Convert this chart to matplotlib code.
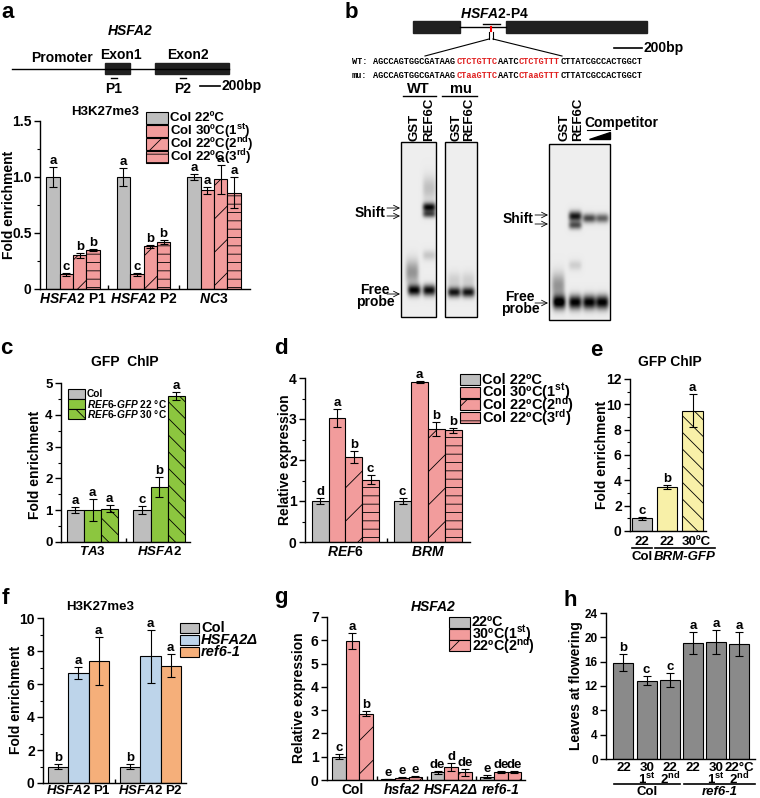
import numpy as np
import matplotlib
matplotlib.use('Agg')
import matplotlib.pyplot as plt
from matplotlib.patches import Rectangle, Polygon
from matplotlib.ticker import MultipleLocator

plt.rcParams['font.family'] = ['Liberation Sans', 'DejaVu Sans']
plt.rcParams['font.weight'] = 'bold'
plt.rcParams['axes.labelweight'] = 'bold'
plt.rcParams['mathtext.fontset'] = 'custom'
plt.rcParams['mathtext.rm'] = 'Liberation Sans:bold'
plt.rcParams['mathtext.it'] = 'Liberation Sans:bold:italic'
plt.rcParams['mathtext.bf'] = 'Liberation Sans:bold'
plt.rcParams['hatch.linewidth'] = 0.6
plt.rcParams['axes.linewidth'] = 1.0

W, H = 760, 798
GRAY = '#BEBEBE'
PINK = '#F29C9C'
GREEN = '#8CC63F'
YELLOW = '#F8F0A8'
BLUE = '#BDD4EA'
ORANGE = '#F5AF7A'
DARK = '#8A8A8A'

# ---- data ----
# a: H3K27me3 at HSFA2
a_labels = [r'$\it{HSFA2}$ P1', r'$\it{HSFA2}$ P2', r'$\it{NC3}$']
a_22 = [1.00, 1.00, 1.00]; a_22_err = [0.09, 0.08, 0.03]; a_22_sig = ['a', 'a', 'a']
a_30 = [0.13, 0.13, 0.88]; a_30_err = [0.01, 0.01, 0.03]; a_30_sig = ['c', 'c', 'a']
a_2nd = [0.30, 0.38, 0.98]; a_2nd_err = [0.02, 0.01, 0.13]; a_2nd_sig = ['b', 'b', 'a']
a_3rd = [0.35, 0.42, 0.86]; a_3rd_err = [0.01, 0.02, 0.14]; a_3rd_sig = ['b', 'b', 'a']

# c: GFP ChIP REF6-GFP
c_labels = [r'$\it{TA3}$', r'$\it{HSFA2}$']
c_col = [1.0, 1.0]; c_col_err = [0.10, 0.12]; c_col_sig = ['a', 'c']
c_22 = [1.0, 1.72]; c_22_err = [0.35, 0.32]; c_22_sig = ['a', 'b']
c_30 = [1.05, 4.60]; c_30_err = [0.10, 0.12]; c_30_sig = ['a', 'a']

# d: relative expression REF6 / BRM
d_labels = [r'$\it{REF6}$', r'$\it{BRM}$']
d_22 = [1.0, 1.0]; d_22_err = [0.08, 0.08]; d_22_sig = ['d', 'c']
d_30 = [3.03, 3.90]; d_30_err = [0.22, 0.02]; d_30_sig = ['a', 'a']
d_2nd = [2.07, 2.75]; d_2nd_err = [0.14, 0.17]; d_2nd_sig = ['b', 'b']
d_3rd = [1.52, 2.72]; d_3rd_err = [0.11, 0.05]; d_3rd_sig = ['c', 'b']

# e: GFP ChIP BRM-GFP
e_vals = [1.0, 3.5, 9.5]; e_err = [0.10, 0.15, 1.30]; e_sig = ['c', 'b', 'a']

# f: H3K27me3
f_labels = [r'$\it{HSFA2}$ P1', r'$\it{HSFA2}$ P2']
f_col = [1.0, 1.0]; f_col_err = [0.15, 0.15]; f_col_sig = ['b', 'b']
f_del = [6.68, 7.68]; f_del_err = [0.35, 1.62]; f_del_sig = ['a', 'a']
f_ref = [7.37, 7.10]; f_ref_err = [1.45, 0.70]; f_ref_sig = ['a', 'a']

# g: HSFA2 expression
g_labels = ['Col', 'hsfa2', 'HSFA2Δ', 'ref6-1']
g_22 = [1.0, 0.05, 0.33, 0.15]; g_22_err = [0.10, 0.01, 0.07, 0.05]; g_22_sig = ['c', 'e', 'de', 'e']
g_30 = [5.97, 0.10, 0.55, 0.35]; g_30_err = [0.33, 0.02, 0.18, 0.04]; g_30_sig = ['a', 'e', 'd', 'de']
g_2nd = [2.85, 0.15, 0.33, 0.35]; g_2nd_err = [0.12, 0.02, 0.15, 0.03]; g_2nd_sig = ['b', 'e', 'de', 'de']

# h: leaves at flowering
h_labels = ['22', '30\n1$^{\\rm st}$', '22\n2$^{\\rm nd}$', '22', '30\n1$^{\\rm st}$', '22°C\n2$^{\\rm nd}$']
h_vals = [15.8, 12.9, 13.0, 19.1, 19.2, 18.9]
h_err = [1.4, 0.8, 1.2, 1.8, 2.0, 1.9]
h_sig = ['b', 'c', 'c', 'a', 'a', 'a']

# gel bands: (lane x, y, strength, spread)
gel1_bands = [(414, 290, 0.90, 5.5), (412, 272, 0.35, 12), (429, 207, 0.90, 4.5), (429, 214, 0.60, 3.5),
              (429, 188, 0.18, 12), (429, 255, 0.15, 5), (429, 290, 0.90, 5.5)]
gel2_bands = [(454, 292, 0.85, 5), (468, 292, 0.85, 5), (454, 280, 0.12, 8), (468, 280, 0.12, 8)]
gel3_bands = [(559, 302, 1.0, 7), (558, 285, 0.35, 12), (575, 216, 0.85, 5), (575, 225, 0.60, 4),
              (575, 265, 0.12, 5), (575, 302, 0.95, 7), (589, 218, 0.65, 4.5), (589, 302, 0.95, 7),
              (602, 218, 0.55, 4.5), (602, 302, 0.95, 7)]

fig = plt.figure(figsize=(W / 100, H / 100), dpi=100)

# overlay in pixel coordinates for annotations, diagrams and gels
ov = fig.add_axes([0, 0, 1, 1])
ov.set_zorder(5)
ov.axis('off')


def px_axes(x0, y0, x1, y1):
    return fig.add_axes([x0 / W, 1 - y1 / H, (x1 - x0) / W, (y1 - y0) / H])


def style_axes(ax, ymax, step, minor, fs, xlim, seps=()):
    ax.set_ylim(0, ymax)
    ax.set_xlim(*xlim)
    ax.set_yticks(np.arange(0, ymax + 1e-9, step))
    if minor:
        ax.yaxis.set_minor_locator(MultipleLocator(minor))
    ax.set_xticks(list(seps), minor=True)
    ax.spines[['top', 'right']].set_visible(False)
    ax.tick_params(axis='y', which='major', direction='out', length=4, width=1, labelsize=fs, pad=2)
    ax.tick_params(axis='y', which='minor', direction='out', length=2.5, width=0.8)
    ax.tick_params(axis='x', which='major', length=0, labelsize=fs, pad=2)
    ax.tick_params(axis='x', which='minor', direction='in', length=3, width=1)
    for t in ax.get_yticklabels() + ax.get_xticklabels():
        t.set_fontweight('bold')


def grouped(ax, series, width, fs=9.5):
    n = len(series)
    x = np.arange(len(series[0][0]))
    for j, (vals, errs, sig, color, hatch) in enumerate(series):
        xs = x + (j - (n - 1) / 2) * width
        ax.bar(xs, vals, width, color=color, hatch=hatch, edgecolor='black', linewidth=0.8, zorder=2)
        ax.errorbar(xs, vals, yerr=errs, fmt='none', ecolor='black', elinewidth=0.8,
                    capsize=3.2, capthick=0.8, zorder=3)
        for xi, v, e, s in zip(xs, vals, errs, sig):
            ax.annotate(s, (xi, v + e), ha='center', va='bottom', fontsize=fs)
    return x


def legend_px(entries, x, y, w, h, dy, fs, italic=()):
    for i, (label, color, hatch) in enumerate(entries):
        yy = y + i * dy
        ov.add_patch(Rectangle((x, yy), w, h, facecolor=color, edgecolor='black', hatch=hatch, lw=0.8))
        ov.text(x + w + 2, yy + h / 2, label, fontsize=fs, ha='left', va='center',
                fontstyle='italic' if i in italic else 'normal')


def ylabel_px(text, x, y, fs=9.5):
    ov.text(x, y, text, fontsize=fs, rotation=90, ha='center', va='center')


leg_a = [('Col 22ºC', GRAY, None), ('Col 30ºC(1$^{\\rm st}$)', PINK, None),
         ('Col 22ºC(2$^{\\rm nd}$)', PINK, '/'), ('Col 22ºC(3$^{\\rm rd}$)', PINK, '--')]

# ---- panel a ----
ax = px_axes(40, 121, 250, 289)
grouped(ax, [(a_22, a_22_err, a_22_sig, GRAY, None), (a_30, a_30_err, a_30_sig, PINK, None),
             (a_2nd, a_2nd_err, a_2nd_sig, PINK, '/'), (a_3rd, a_3rd_err, a_3rd_sig, PINK, '--')], 0.19)
ax.set_xticks(range(3))
ax.set_xticklabels(a_labels)
style_axes(ax, 1.5, 0.5, 0.25, 10, (-0.468, 2.51), seps=(0.5, 1.5))
ax.set_yticklabels(['0', '0.5', '1.0', '1.5'])
ylabel_px('Fold enrichment', 9, 205, 10)
legend_px(leg_a, 146, 112, 22, 11.5, 13, 9.5)

# ---- panel c ----
ax = px_axes(61, 383, 190, 542)
grouped(ax, [(c_col, c_col_err, c_col_sig, GRAY, None), (c_22, c_22_err, c_22_sig, GREEN, None),
             (c_30, c_30_err, c_30_sig, GREEN, '\\\\')], 0.256)
ax.set_xticks(range(2))
ax.set_xticklabels(c_labels)
style_axes(ax, 5, 1, 0.5, 9.5, (-0.474, 1.466), seps=(0.5,))
ylabel_px('Fold enrichment', 35, 465, 10)
legend_px([('Col', GRAY, None), (r'$\it{REF6}$-$\it{GFP}$ 22 °C', GREEN, None),
           (r'$\it{REF6}$-$\it{GFP}$ 30 °C', GREEN, '\\\\')], 68, 389, 17, 9.5, 10, 7.3)

# ---- panel d ----
ax = px_axes(305, 378, 470, 542)
grouped(ax, [(d_22, d_22_err, d_22_sig, GRAY, None), (d_30, d_30_err, d_30_sig, PINK, None),
             (d_2nd, d_2nd_err, d_2nd_sig, PINK, '/'), (d_3rd, d_3rd_err, d_3rd_sig, PINK, '--')], 0.204)
ax.set_xticks(range(2))
ax.set_xticklabels(d_labels)
style_axes(ax, 4, 1, 0.5, 10, (-0.49, 1.51), seps=(0.5,))
ylabel_px('Relative expression', 285, 460, 10)
legend_px(leg_a, 460, 374, 20, 11, 12.7, 10.5)

# ---- panel e ----
ax = px_axes(630, 379, 706, 531)
ex = np.arange(3)
ax.bar(ex, e_vals, 0.8, color=[GRAY, YELLOW, YELLOW], hatch=[None, None, '\\\\'],
       edgecolor='black', linewidth=0.8, zorder=2)
ax.errorbar(ex, e_vals, yerr=e_err, fmt='none', ecolor='black', elinewidth=0.8, capsize=3, capthick=0.8, zorder=3)
for xi, v, e, s in zip(ex, e_vals, e_err, e_sig):
    ax.annotate(s, (xi, v + e), ha='center', va='bottom', fontsize=9.5)
ax.set_xticks([])
style_axes(ax, 12, 2, 1, 10, (-0.47, 2.53))
ylabel_px('Fold enrichment', 602, 455, 10)

# ---- panel f ----
ax = px_axes(43, 618, 186, 783)
grouped(ax, [(f_col, f_col_err, f_col_sig, GRAY, None), (f_del, f_del_err, f_del_sig, BLUE, None),
             (f_ref, f_ref_err, f_ref_sig, ORANGE, None)], 0.278)
ax.set_xticks(range(2))
ax.set_xticklabels(f_labels)
style_axes(ax, 10, 2, 1, 10, (-0.493, 1.493), seps=(0.5,))
ax.tick_params(axis='x', labelsize=9.5, pad=0.5)
ylabel_px('Fold enrichment', 16, 700, 10)
legend_px([('Col', GRAY, None), ('HSFA2Δ', BLUE, None), ('ref6-1', ORANGE, None)],
          180, 623, 19, 10, 12, 10.5, italic=(1, 2))

# ---- panel g ----
ax = px_axes(327, 617, 525, 780)
grouped(ax, [(g_22, g_22_err, g_22_sig, GRAY, None), (g_30, g_30_err, g_30_sig, PINK, None),
             (g_2nd, g_2nd_err, g_2nd_sig, PINK, '/')], 0.276)
ax.set_xticks(range(4))
ax.set_xticklabels(g_labels)
style_axes(ax, 7, 1, None, 10, (-0.513, 3.49), seps=(0.5, 1.5, 2.5))
for t in ax.get_xticklabels()[1:]:
    t.set_fontstyle('italic')
ylabel_px('Relative expression', 299, 698, 10)
legend_px([('22ºC', GRAY, None), ('30ºC(1$^{\\rm st}$)', PINK, None), ('22ºC(2$^{\\rm nd}$)', PINK, '/')],
          449, 617, 21, 11, 11.7, 10.3)

# ---- panel h ----
ax = px_axes(606, 613, 755, 759)
hx = np.arange(6)
ax.bar(hx, h_vals, 0.86, color=DARK, edgecolor='black', linewidth=0.8, zorder=2)
ax.errorbar(hx, h_vals, yerr=h_err, fmt='none', ecolor='black', elinewidth=0.8, capsize=3, capthick=0.8, zorder=3)
for xi, v, e, s in zip(hx, h_vals, h_err, h_sig):
    ax.annotate(s, (xi, v + e), ha='center', va='bottom', fontsize=9.5)
ax.set_xticks(hx)
ax.set_xticklabels(h_labels, linespacing=0.8)
style_axes(ax, 24, 4, None, 8.5, (-0.75, 5.67))
ax.tick_params(axis='x', labelsize=9.5)
ylabel_px('Leaves at flowering', 576, 686, 10)

# ---- overlay content ----
for lab, x, y in [('a', 8, 13), ('b', 351, 12), ('c', 6, 349), ('d', 281, 349), ('e', 596, 350),
                  ('f', 5, 598), ('g', 281, 598), ('h', 570, 601)]:
    ov.text(x, y, lab, fontsize=16, ha='center', va='center')

# titles
ov.text(105, 112, 'H3K27me3', fontsize=9.5, ha='center', va='center')
ov.text(125, 362, 'GFP  ChIP', fontsize=10, ha='center', va='center')
ov.text(670, 362, 'GFP ChIP', fontsize=10, ha='center', va='center')
ov.text(100, 607, 'H3K27me3', fontsize=9.5, ha='center', va='center')
ov.text(433, 607, 'HSFA2', fontsize=10, fontstyle='italic', ha='center', va='center')

# panel a gene diagram
ov.text(130, 31, 'HSFA2', fontsize=10, fontstyle='italic', ha='center', va='center')
ov.plot([12, 229], [69, 69], color='black', lw=1)
ov.add_patch(Rectangle((105, 63), 25, 11, color='#202020'))
ov.add_patch(Rectangle((155, 63), 74, 11, color='#202020'))
ov.text(62, 58, 'Promoter', fontsize=10, ha='center', va='center')
ov.text(121, 55, 'Exon1', fontsize=10, ha='center', va='center')
ov.text(188, 55, 'Exon2', fontsize=10, ha='center', va='center')
ov.plot([111, 117], [78, 78], color='black', lw=1)
ov.plot([180, 186], [78, 78], color='black', lw=1)
ov.text(114, 89, 'P1', fontsize=10, ha='center', va='center')
ov.text(183, 89, 'P2', fontsize=10, ha='center', va='center')
ov.plot([200, 220], [86, 86], color='black', lw=1.2)
ov.text(222, 86, '200bp', fontsize=10, ha='left', va='center')

# panel b gene diagram
ov.text(494, 14, r'$\it{HSFA2}$-P4', fontsize=10, ha='center', va='center')
ov.add_patch(Rectangle((413, 21), 47, 12, color='#202020'))
ov.add_patch(Rectangle((506, 21), 141, 12, color='#202020'))
ov.plot([460, 506], [27, 27], color='black', lw=1)
ov.plot([483, 500], [24, 24], color='black', lw=1)
ov.plot([491, 491], [27, 31], color='red', lw=1.5)
ov.plot([489, 489], [32, 39], color='black', lw=0.8)
ov.plot([493, 493], [32, 39], color='black', lw=0.8)
ov.plot([489, 425], [39, 56], color='black', lw=0.8)
ov.plot([493, 562], [39, 56], color='black', lw=0.8)
ov.plot([614, 642], [48, 48], color='black', lw=1.2)
ov.text(644, 48, '200bp', fontsize=10, ha='left', va='center')

seq_wt = ['AGCCAGTGGCGATAAG', 'CTCTGTTC', 'AATC', 'CTCTGTTT', 'CTTATCGCCACTGGCT']
seq_mu = ['AGCCAGTGGCGATAAG', 'CTaaGTTC', 'AATC', 'CTaaGTTT', 'CTTATCGCCACTGGCT']
cw = 0.6 * 6.25 * 100 / 72
for name, parts, y in [('WT:', seq_wt, 62), ('mu:', seq_mu, 76)]:
    ov.text(352, y, name, fontsize=6.25, family='Liberation Mono', ha='left', va='center')
    pos = 0
    for k, part in enumerate(parts):
        ov.text(373 + pos * cw, y, part, fontsize=6.25, family='Liberation Mono', ha='left', va='center',
                color='#E02020' if k in (1, 3) else 'black')
        pos += len(part)

ov.text(418, 89, 'WT', fontsize=10.5, ha='center', va='center')
ov.plot([403, 436], [96, 96], color='black', lw=1)
ov.text(461, 89, 'mu', fontsize=10.5, ha='center', va='center')
ov.plot([442, 477], [96, 96], color='black', lw=1)
for lbl, x in [('GST', 415), ('REF6C', 429), ('GST', 457), ('REF6C', 469), ('GST', 564), ('REF6C', 578)]:
    ov.text(x, 141, lbl, fontsize=9.5, rotation=90, ha='center', va='bottom')
ov.text(584, 123, 'Competitor', fontsize=10, ha='left', va='center')
ov.plot([587, 610], [130, 130], color='black', lw=0.8)
ov.add_patch(Polygon([(589, 139), (610, 139), (610, 132)], color='black'))


def gel(x0, x1, y0, y1, bands):
    xs = np.arange(x0, x1, 0.5)
    ys = np.arange(y0, y1, 0.5)
    X, Y = np.meshgrid(xs, ys)
    img = np.full(X.shape, 0.93)
    for lx, by, amp, sy in bands:
        img -= amp * np.exp(-((X - lx) / 6.5) ** 4) * np.exp(-((Y - by) / sy) ** 2)
    img = np.clip(img, 0, 1)
    ov.imshow(img, cmap='gray', vmin=0, vmax=1, extent=(x0, x1, y1, y0), aspect='auto',
              interpolation='bilinear', origin='upper')
    ov.add_patch(Rectangle((x0, y0), x1 - x0, y1 - y0, fill=False, edgecolor='black', lw=1))


gel(401, 436, 142, 317, gel1_bands)
gel(445, 477, 142, 317, gel2_bands)
gel(549, 610, 144, 320, gel3_bands)
ov.set_xlim(0, W)
ov.set_ylim(H, 0)

arrow = dict(arrowstyle='->', lw=0.6, color='black', shrinkA=0, shrinkB=0)
ov.text(385, 213, 'Shift', fontsize=10, ha='right', va='center')
for y in (208, 216):
    ov.annotate('', xy=(400, y), xytext=(387, y), arrowprops=arrow)
ov.text(375, 296, 'Free\nprobe', fontsize=10, ha='center', va='center', linespacing=0.9)
ov.annotate('', xy=(400, 294), xytext=(387, 294), arrowprops=arrow)
ov.text(533, 219, 'Shift', fontsize=10, ha='right', va='center')
for y in (215, 224):
    ov.annotate('', xy=(548, y), xytext=(535, y), arrowprops=arrow)
ov.text(520, 303, 'Free\nprobe', fontsize=10, ha='center', va='center', linespacing=0.9)
ov.annotate('', xy=(548, 303), xytext=(535, 303), arrowprops=arrow)

# panel e group labels
for t, x in [('22', 642), ('22', 667), ('30ºC', 696)]:
    ov.text(x, 542, t, fontsize=9.5, ha='center', va='center')
ov.plot([632, 652], [548, 548], color='black', lw=1.2)
ov.plot([655, 715], [548, 548], color='black', lw=1.2)
ov.text(642, 557, 'Col', fontsize=9.5, ha='center', va='center')
ov.text(685, 557, 'BRM-GFP', fontsize=9.5, fontstyle='italic', ha='center', va='center')

# panel h group labels
ov.plot([614, 680], [784, 784], color='black', lw=1.2)
ov.plot([684, 755], [784, 784], color='black', lw=1.2)
ov.text(647, 792, 'Col', fontsize=9.5, ha='center', va='center')
ov.text(720, 792, 'ref6-1', fontsize=9.5, fontstyle='italic', ha='center', va='center')

fig.savefig('out.png', dpi=100)
